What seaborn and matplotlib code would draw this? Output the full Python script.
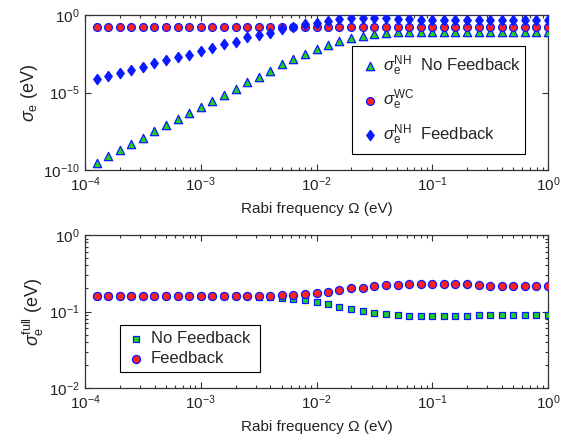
import numpy as np
import pandas as pd
import matplotlib
matplotlib.use("Agg")
import matplotlib.pyplot as plt
import matplotlib.ticker as mticker
import seaborn as sns

# Rabi frequency grid (eV)
rabi = [1.26e-4, 1.58e-4, 2.00e-4, 2.51e-4, 3.16e-4, 3.98e-4, 5.01e-4, 6.31e-4, 7.94e-4, 1.00e-3,
        1.26e-3, 1.58e-3, 2.00e-3, 2.51e-3, 3.16e-3, 3.98e-3, 5.01e-3, 6.31e-3, 7.94e-3, 1.00e-2,
        1.26e-2, 1.58e-2, 2.00e-2, 2.51e-2, 3.16e-2, 3.98e-2, 5.01e-2, 6.31e-2, 7.94e-2, 1.00e-1,
        1.26e-1, 1.58e-1, 2.00e-1, 2.51e-1, 3.16e-1, 3.98e-1, 5.01e-1, 6.31e-1, 7.94e-1, 1.00e0]

# Energy spread (eV), non-Hermitian, no feedback
sigma_nh_nofb = [3.0e-10, 7.9e-10, 1.95e-9, 4.8e-9, 1.2e-8, 3.3e-8, 7.6e-8, 2.0e-7, 5.0e-7, 1.15e-6,
                 3.0e-6, 7.2e-6, 1.8e-5, 4.6e-5, 1.05e-4, 2.6e-4, 6.6e-4, 1.5e-3, 3.2e-3, 6.5e-3,
                 1.15e-2, 2.0e-2, 3.5e-2, 4.5e-2, 5.8e-2, 7.2e-2, 8.0e-2, 8.3e-2, 8.3e-2, 8.3e-2,
                 8.3e-2, 8.3e-2, 8.3e-2, 8.3e-2, 8.3e-2, 8.3e-2, 8.3e-2, 8.3e-2, 8.3e-2, 8.3e-2]

# Energy spread (eV), weak coupling
sigma_wc = [0.16] * 40

# Energy spread (eV), non-Hermitian, with feedback
sigma_nh_fb = [7.4e-5, 1.15e-4, 1.8e-4, 2.8e-4, 4.5e-4, 7.6e-4, 1.26e-3, 1.9e-3, 2.75e-3, 4.8e-3,
               7.1e-3, 1.29e-2, 1.9e-2, 3.6e-2, 5.1e-2, 7.4e-2, 0.12, 0.18, 0.25, 0.32,
               0.43, 0.55, 0.62, 0.66, 0.65, 0.60, 0.55, 0.52, 0.50, 0.50,
               0.50, 0.50, 0.50, 0.50, 0.50, 0.50, 0.50, 0.50, 0.50, 0.50]

# Full energy spread (eV)
sigma_full_nofb = [0.160, 0.160, 0.160, 0.160, 0.160, 0.160, 0.160, 0.160, 0.160, 0.160,
                   0.160, 0.159, 0.159, 0.159, 0.157, 0.153, 0.149, 0.146, 0.140, 0.133,
                   0.124, 0.116, 0.108, 0.102, 0.096, 0.093, 0.090, 0.088, 0.088, 0.088,
                   0.088, 0.088, 0.088, 0.090, 0.090, 0.090, 0.090, 0.090, 0.090, 0.090]
sigma_full_fb = [0.160, 0.160, 0.160, 0.160, 0.160, 0.160, 0.160, 0.160, 0.160, 0.160,
                 0.160, 0.160, 0.160, 0.160, 0.160, 0.160, 0.163, 0.165, 0.168, 0.175,
                 0.181, 0.190, 0.200, 0.204, 0.214, 0.221, 0.223, 0.228, 0.230, 0.230,
                 0.230, 0.230, 0.228, 0.221, 0.216, 0.216, 0.216, 0.216, 0.216, 0.216]

x_ticks = [1e-4, 1e-3, 1e-2, 1e-1, 1e0]
top_y_ticks = [1e-10, 1e-5, 1e0]
bottom_y_ticks = [1e-2, 1e-1, 1e0]

sns.set_style("ticks")
plt.rcParams["font.family"] = ["Liberation Sans", "DejaVu Sans"]
plt.rcParams["mathtext.fontset"] = "custom"
plt.rcParams["mathtext.rm"] = "Liberation Sans"
plt.rcParams["mathtext.it"] = "Liberation Sans:italic"

axis_col = "#333333"
green = "#1fd01f"
blue = "#0a1aff"
red = "#ff2020"

# a diamond slightly taller than wide
diamond = [(0, 1), (0.72, 0), (0, -1), (-0.72, 0), (0, 1)]

fig = plt.figure(figsize=(5.61, 4.45), dpi=100)
ax1 = fig.add_axes([85 / 561, 1 - 170 / 445, 463 / 561, 155 / 445])
ax2 = fig.add_axes([85 / 561, 1 - 388 / 445, 463 / 561, 153 / 445])

top = pd.DataFrame({"rabi": rabi, "nh_nofb": sigma_nh_nofb, "wc": sigma_wc, "nh_fb": sigma_nh_fb})
bottom = pd.DataFrame({"rabi": rabi, "nofb": sigma_full_nofb, "fb": sigma_full_fb})

sns.scatterplot(data=top, x="rabi", y="nh_nofb", ax=ax1, marker="^", s=36, color=green,
                edgecolor=blue, linewidth=0.9,
                label=r"$\sigma_{\mathrm{e}}^{\mathrm{NH}}$  No Feedback", zorder=3)
sns.scatterplot(data=top, x="rabi", y="wc", ax=ax1, marker="o", s=32, color=red,
                edgecolor=blue, linewidth=0.9,
                label=r"$\sigma_{\mathrm{e}}^{\mathrm{WC}}$", zorder=4)
sns.scatterplot(data=top, x="rabi", y="nh_fb", ax=ax1, marker=diamond, s=56, color=blue,
                edgecolor=blue, linewidth=0.9,
                label=r"$\sigma_{\mathrm{e}}^{\mathrm{NH}}$  Feedback", zorder=5)

sns.scatterplot(data=bottom, x="rabi", y="nofb", ax=ax2, marker="s", s=22, color=green,
                edgecolor=blue, linewidth=0.9, label="No Feedback", zorder=3)
sns.scatterplot(data=bottom, x="rabi", y="fb", ax=ax2, marker="o", s=34, color=red,
                edgecolor=blue, linewidth=0.9, label="Feedback", zorder=4)

for ax, ylim, yt in [(ax1, (1e-10, 1e0), top_y_ticks), (ax2, (1e-2, 1e0), bottom_y_ticks)]:
    ax.set_xscale("log")
    ax.set_yscale("log")
    ax.set_xlim(1e-4, 1e0)
    ax.set_ylim(*ylim)
    ax.set_xticks(x_ticks)
    ax.set_yticks(yt)
    ax.xaxis.set_minor_locator(mticker.LogLocator(base=10, subs=np.arange(2, 10), numticks=20))
    ax.xaxis.set_minor_formatter(mticker.NullFormatter())
    ax.set_xlabel("Rabi frequency \u03a9 (eV)", fontsize=11, color="#222222", labelpad=6)
    ax.tick_params(which="both", direction="in", top=True, right=True, colors=axis_col,
                   labelcolor="#222222", labelsize=11, width=0.8)
    ax.tick_params(which="major", length=4.5, pad=4)
    ax.tick_params(which="minor", length=2.5)
    for sp in ax.spines.values():
        sp.set_visible(True)
        sp.set_color(axis_col)
        sp.set_linewidth(0.9)

ax1.yaxis.set_minor_locator(mticker.NullLocator())
ax2.yaxis.set_minor_locator(mticker.LogLocator(base=10, subs=np.arange(2, 10), numticks=20))
ax2.yaxis.set_minor_formatter(mticker.NullFormatter())

ax1.set_ylabel(r"$\sigma_{\mathrm{e}}$ (eV)", fontsize=13, color="#222222", labelpad=2)
ax2.set_ylabel(r"$\sigma_{\mathrm{e}}^{\mathrm{full}}$ (eV)", fontsize=13, color="#222222",
               labelpad=2)

leg1 = ax1.legend(loc="lower left", bbox_to_anchor=(0.577, 0.103, 0.373, 0.652), mode="expand",
                  fontsize=12, frameon=True, fancybox=False, framealpha=1, edgecolor="black",
                  handletextpad=0.2, handlelength=1.2, labelspacing=0.6, borderaxespad=0,
                  borderpad=0.45)
leg1.get_frame().set_linewidth(0.8)

leg2 = ax2.legend(loc="lower left", bbox_to_anchor=(0.076, 0.105, 0.302, 0.32), mode="expand",
                  fontsize=12, frameon=True, fancybox=False, framealpha=1, edgecolor="black",
                  handletextpad=0.3, handlelength=1.2, labelspacing=0.3, borderaxespad=0,
                  borderpad=0.35)
leg2.get_frame().set_linewidth(0.8)

fig.savefig("out.png", dpi=100)
